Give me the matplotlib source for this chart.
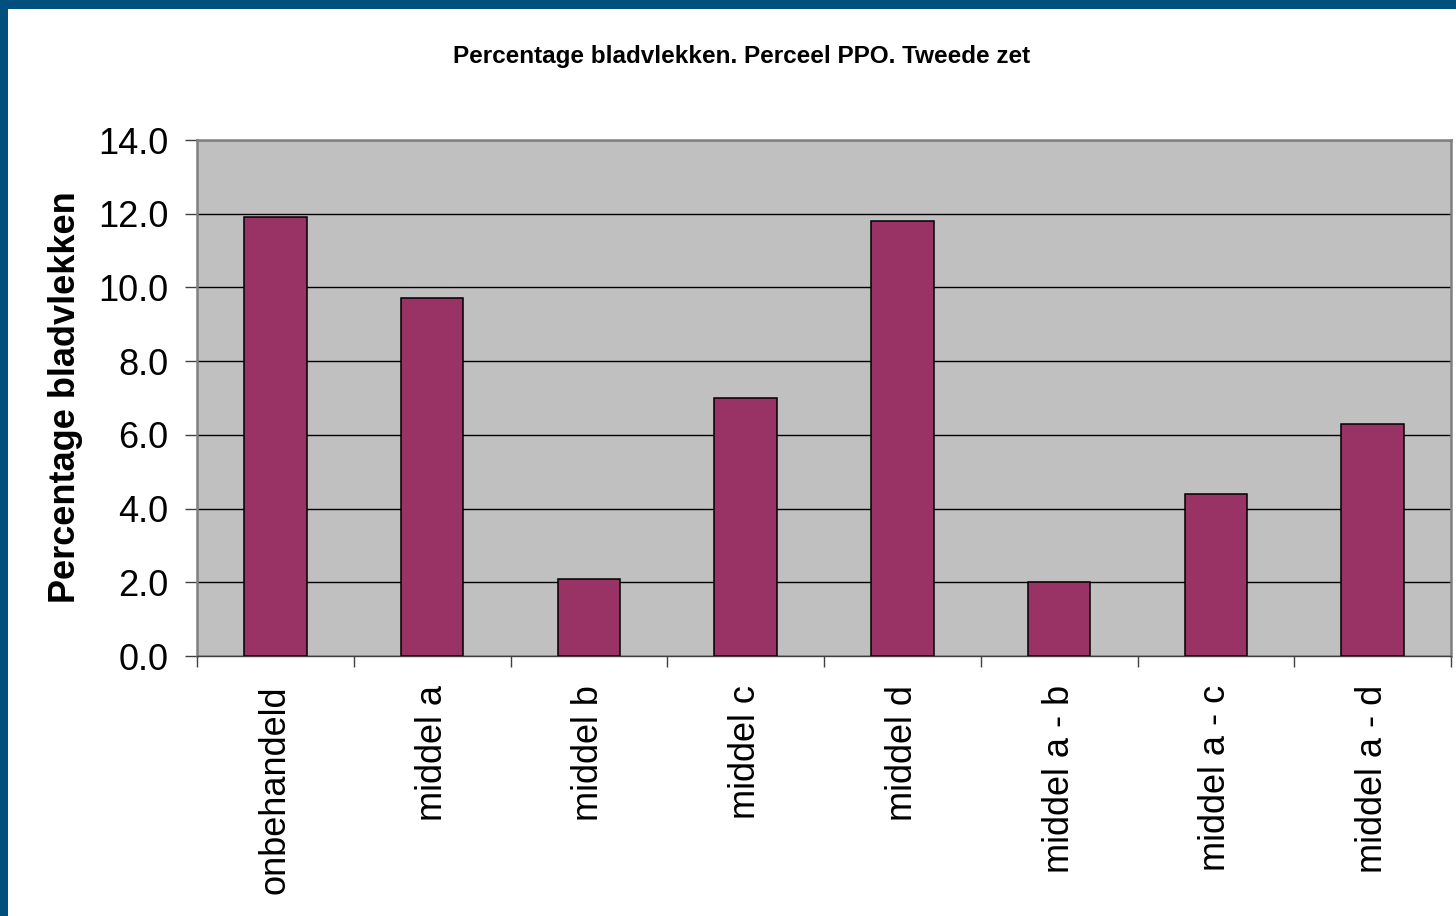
import matplotlib.pyplot as plt
import matplotlib.patches as patches
import numpy as np

# data
categories = ["onbehandeld", "middel a", "middel b", "middel c", "middel d",
              "middel a - b", "middel a - c", "middel a - d"]
values = [11.9, 9.7, 2.1, 7.0, 11.8, 2.0, 4.4, 6.3]
yticks = [0.0, 2.0, 4.0, 6.0, 8.0, 10.0, 12.0, 14.0]

title = "Percentage bladvlekken. Perceel PPO. Tweede zet"
ylabel = "Percentage bladvlekken"


def main():
    plt.rcParams['font.family'] = ['Liberation Sans', 'DejaVu Sans']

    W, H = 1456, 916
    fig = plt.figure(figsize=(W / 100, H / 100), dpi=100)
    fig.patch.set_facecolor('white')

    # blue frame along top and left edge
    border = '#004F7D'
    fig.add_artist(patches.Rectangle((0, 1 - 9 / H), 1, 9 / H, transform=fig.transFigure,
                                     facecolor=border, edgecolor='none', zorder=0))
    fig.add_artist(patches.Rectangle((0, 0), 8 / W, 1, transform=fig.transFigure,
                                     facecolor=border, edgecolor='none', zorder=0))

    left, right = 197 / W, 1451 / W
    bottom, top = 1 - 656 / H, 1 - 140 / H
    ax = fig.add_axes([left, bottom, right - left, top - bottom])
    ax.set_facecolor('#C0C0C0')

    x = np.arange(len(categories))
    ax.bar(x, values, width=0.4, color='#993366', edgecolor='black', linewidth=1.1, zorder=3)

    ax.set_xlim(-0.5, len(categories) - 0.5)
    ax.set_ylim(0, 14)

    ax.set_yticks(yticks)
    ax.set_yticklabels([f"{v:.1f}" for v in yticks])
    ax.yaxis.grid(True, color='black', linewidth=1.0, zorder=1)
    ax.set_axisbelow(True)

    # category labels centred, ticks at the boundaries
    ax.set_xticks(x)
    ax.set_xticklabels(categories, rotation=90, va='top', ha='center')
    ax.set_xticks(np.arange(-0.5, len(categories)), minor=True)
    ax.tick_params(axis='x', which='major', length=0, pad=21, labelsize=26)
    ax.tick_params(axis='x', which='minor', length=8, width=1.0, color='#404040')
    ax.tick_params(axis='y', length=8.5, width=1.0, color='#404040', pad=12, labelsize=26)

    for side in ['top', 'right', 'left']:
        ax.spines[side].set_color('#808080')
        ax.spines[side].set_linewidth(1.8)
    ax.spines['bottom'].set_color('#404040')
    ax.spines['bottom'].set_linewidth(1.0)

    fig.text(741.5 / W, 1 - 56 / H, title, ha='center', va='center',
             fontsize=17.5, fontweight='bold')
    fig.text(66 / W, 1 - 397 / H, ylabel, ha='center', va='center', rotation=90,
             fontsize=26, fontweight='bold')

    plt.savefig('out.png', dpi=100)
    plt.close()


if __name__ == "__main__":
    main()
